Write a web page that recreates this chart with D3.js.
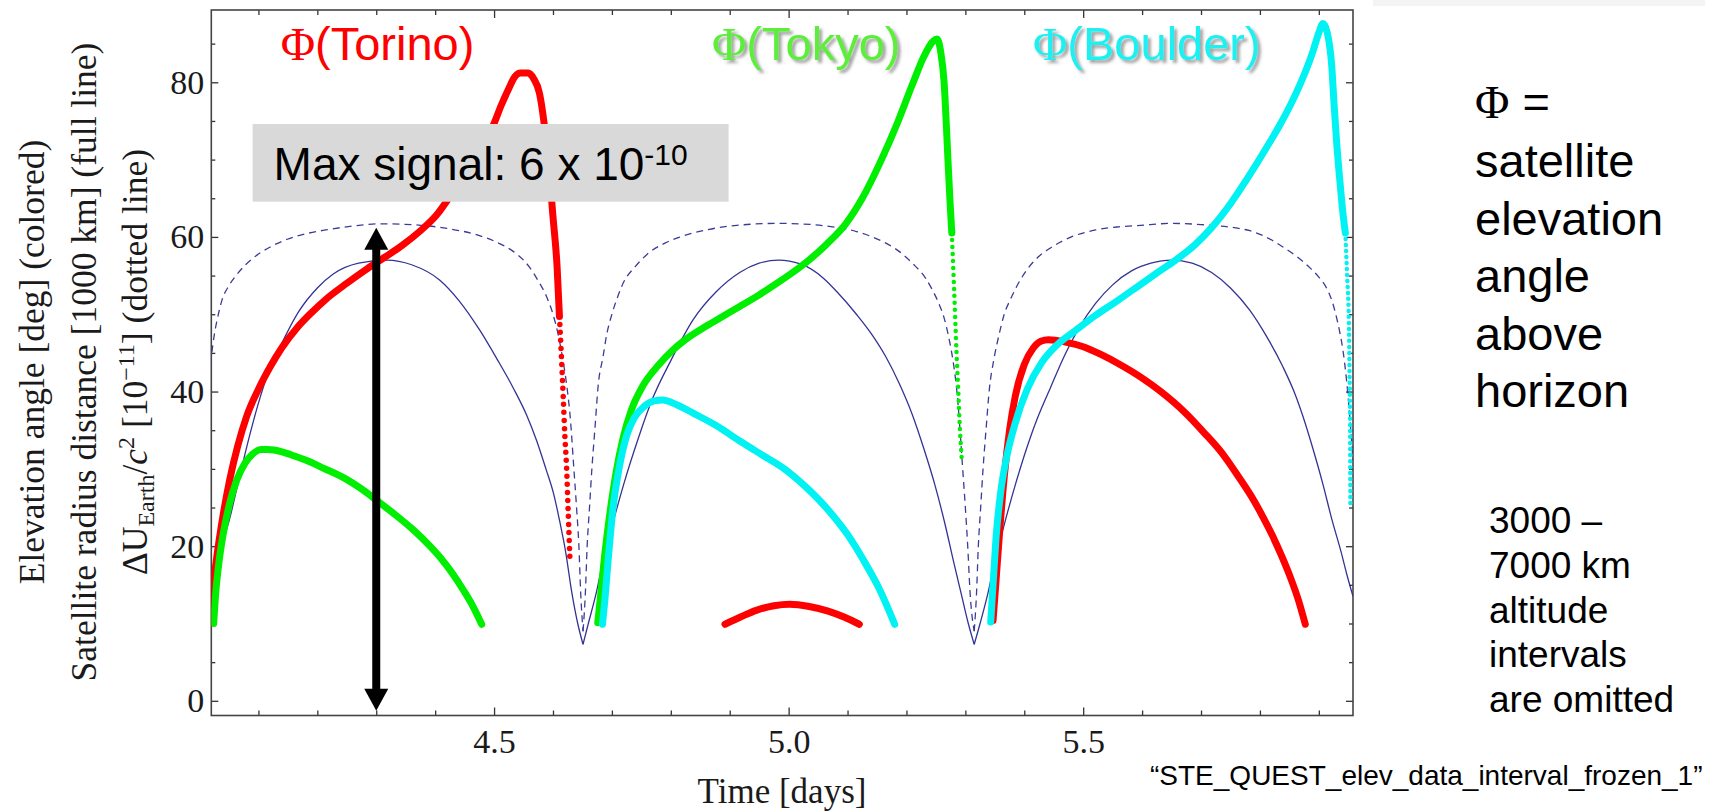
<!DOCTYPE html>
<html>
<head>
<meta charset="utf-8">
<script src="https://cdn.jsdelivr.net/npm/d3@7"></script>
<style>
  html, body { margin: 0; padding: 0; background: #fff; }
  svg { display: block; }
</style>
</head>
<body>
<svg width="1716" height="812"></svg>
<script>
// ticks
var xMajor = [4.5, 5.0, 5.5],
    xMajorLabels = ["4.5", "5.0", "5.5"],
    xMinor = [4.1, 4.2, 4.3, 4.4, 4.6, 4.7, 4.8, 4.9, 5.1, 5.2, 5.3, 5.4, 5.6, 5.7, 5.8, 5.9],
    yMajor = [0, 20, 40, 60, 80],
    yMinor = [5, 10, 15, 25, 30, 35, 45, 50, 55, 65, 70, 75, 85];

var radius1 = [[4.020, 15.5], [4.035, 19.5], [4.051, 23.5], [4.065, 28], [4.084, 34], [4.10, 38.5], [4.116, 42.3],
  [4.14, 46.3], [4.168, 50.3], [4.20, 53.4], [4.227, 55.2], [4.27, 56.6], [4.318, 57.0], [4.36, 56.4], [4.408, 54.4],
  [4.44, 51.8], [4.476, 47.9], [4.505, 44.2], [4.533, 40.4], [4.555, 37], [4.572, 33.7], [4.588, 30], [4.601, 26.8],
  [4.612, 23], [4.621, 19.5], [4.632, 14], [4.642, 10], [4.651, 7.3]];
var radius2 = [[4.651, 7.3], [4.66, 10], [4.672, 13.5], [4.685, 18], [4.70, 22.5], [4.72, 28], [4.745, 34],
  [4.768, 38.9], [4.80, 44], [4.838, 49.3], [4.877, 52.9], [4.917, 55.4], [4.95, 56.6], [4.983, 57.0], [5.02, 56.5],
  [5.06, 54.6], [5.082, 52.9], [5.115, 50], [5.142, 47.3], [5.165, 44.5], [5.188, 41], [5.21, 37], [5.23, 32.5],
  [5.248, 28], [5.265, 23], [5.28, 18], [5.294, 13.5], [5.305, 10], [5.315, 7.3]];
var radius3 = [[5.315, 7.3], [5.325, 10], [5.337, 13.5], [5.35, 18], [5.365, 22.5], [5.385, 28], [5.41, 34],
  [5.4226, 36.6], [5.445, 40.6], [5.468, 44.6], [5.495, 48.5], [5.521, 51.4], [5.55, 53.8], [5.582, 55.6],
  [5.615, 56.6], [5.65, 57.0], [5.685, 56.6], [5.718, 55.4], [5.75, 53.4], [5.783, 50.5], [5.81, 47.3],
  [5.839, 43.2], [5.861, 39.4], [5.873, 36.8], [5.89, 32.6], [5.907, 28], [5.922, 23.5], [5.938, 19.2],
  [5.947, 16.5], [5.958, 13.5]];

// Delta U_Earth / c^2 [1e-11] (dotted line)
var potential1 = [[4.016, 42], [4.02, 44.5], [4.025, 47.3], [4.032, 50], [4.038, 51.8], [4.05, 53.7], [4.064, 55.2],
  [4.09, 57.2], [4.12, 58.7], [4.149, 59.7], [4.18, 60.4], [4.214, 60.9], [4.26, 61.4], [4.311, 61.7], [4.376, 61.5],
  [4.42, 61.1], [4.474, 60.2], [4.505, 59.3], [4.533, 58.1], [4.55, 57], [4.561, 56], [4.575, 54.3], [4.589, 52.3],
  [4.6, 50], [4.609, 47.3], [4.617, 44], [4.623, 41], [4.63, 36], [4.635, 30.5], [4.64, 25], [4.644, 20],
  [4.647, 14], [4.651, 9]];
var potential2 = [[4.651, 9], [4.655, 14], [4.658, 20], [4.662, 25], [4.666, 30], [4.671, 35], [4.677, 41],
  [4.685, 44.5], [4.691, 47.3], [4.70, 50], [4.71, 52.3], [4.719, 54], [4.74, 56.2], [4.759, 57.7], [4.79, 59.2],
  [4.816, 60], [4.86, 60.9], [4.912, 61.5], [4.983, 61.75], [5.04, 61.6], [5.082, 61.2], [5.115, 60.7], [5.142, 60],
  [5.165, 59.2], [5.188, 58.1], [5.21, 56.6], [5.233, 54.6], [5.245, 53], [5.256, 51.2], [5.264, 49.5],
  [5.271, 47.3], [5.279, 44], [5.285, 40.5], [5.29, 36], [5.295, 30.5], [5.3, 25], [5.304, 20], [5.308, 14],
  [5.315, 9]];
var potential3 = [[5.315, 9], [5.319, 14], [5.322, 20], [5.326, 25], [5.33, 30], [5.335, 35], [5.341, 40.5],
  [5.348, 44], [5.357, 47.3], [5.366, 50], [5.377, 52], [5.39, 54], [5.407, 56], [5.425, 57.5], [5.445, 58.6],
  [5.48, 60], [5.521, 60.9], [5.56, 61.3], [5.597, 61.5], [5.65, 61.75], [5.7, 61.6], [5.764, 61.1], [5.783, 60.8],
  [5.81, 60], [5.839, 58.7], [5.862, 57.5], [5.885, 56], [5.9, 54.8], [5.913, 53.4], [5.922, 51.8], [5.93, 49.6],
  [5.936, 47.5], [5.941, 45.3], [5.947, 41.5], [5.953, 36.3], [5.958, 31]];

// elevation angle [deg] (colored)
var torino1 = [[4.017, 9.9], [4.022, 14], [4.03, 19], [4.04, 24], [4.051, 28.5], [4.065, 33], [4.08, 36.8],
  [4.10, 40.3], [4.12, 43.2], [4.14, 45.7], [4.165, 48.2], [4.19, 50.2], [4.214, 51.9], [4.25, 54], [4.285, 55.9],
  [4.315, 57.4], [4.344, 58.9], [4.375, 60.8], [4.402, 62.8], [4.43, 65.8], [4.465, 70.1], [4.4995, 74.6],
  [4.512, 77], [4.525, 79.2], [4.535, 80.7], [4.545, 81.2], [4.558, 81.2], [4.567, 80.5], [4.577, 78.6],
  [4.587, 73.4], [4.594, 68.2], [4.6, 62.6], [4.607, 56.1], [4.611, 49.7]];
var torino1Drop = [[4.611, 49.7], [4.614, 45], [4.6176, 38.9], [4.62, 34.5], [4.623, 30.3], [4.626, 24], [4.629, 17.8]];
var torino2 = [[4.892, 9.9], [4.92, 10.9], [4.945, 11.7], [4.975, 12.3], [5.002, 12.5], [5.035, 12.2], [5.067, 11.6],
  [5.095, 10.8], [5.12, 9.9]];
var torino3 = [[5.347, 10.4], [5.352, 15.5], [5.358, 21.7], [5.366, 29], [5.375, 35], [5.385, 39.5], [5.40, 43.5],
  [5.415, 45.6], [5.428, 46.5], [5.441, 46.7], [5.47, 46.4], [5.5, 45.8], [5.53, 44.8], [5.56, 43.6], [5.597, 41.9],
  [5.63, 40.1], [5.674, 37.2], [5.705, 34.7], [5.736, 32], [5.76, 29.4], [5.785, 26.5], [5.805, 23.8],
  [5.821, 21.4], [5.837, 18.7], [5.852, 15.9], [5.865, 13.1], [5.877, 9.9]];

var tokyo1 = [[4.024, 10], [4.027, 13.5], [4.032, 17.3], [4.04, 21.5], [4.051, 25.5], [4.063, 28.5], [4.077, 30.7],
  [4.09, 31.9], [4.104, 32.5], [4.116, 32.5], [4.14, 32.2], [4.16, 31.7], [4.181, 31.1], [4.21, 30.1], [4.246, 28.8],
  [4.275, 27.4], [4.301, 25.9], [4.33, 24.2], [4.363, 22.1], [4.39, 20.1], [4.409, 18.5], [4.43, 16.4],
  [4.448, 14.3], [4.465, 12.1], [4.479, 9.9]];
var tokyo2 = [[4.676, 10.1], [4.68, 13], [4.688, 19], [4.697, 24.5], [4.707, 29.5], [4.719, 34], [4.733, 37.6],
  [4.753, 40.8], [4.78, 43.5], [4.804, 45.4], [4.83, 47], [4.861, 48.5], [4.89, 49.8], [4.917, 51], [4.95, 52.5],
  [4.976, 53.8], [5.005, 55.3], [5.036, 57.1], [5.065, 59.1], [5.097, 61.7], [5.125, 65], [5.157, 69.9],
  [5.185, 74.8], [5.211, 79.9], [5.23, 83.4], [5.245, 85.3], [5.252, 85.6], [5.258, 84], [5.264, 79.9],
  [5.268, 74], [5.271, 69.1], [5.274, 64.5], [5.277, 60.5]];
var tokyo2Drop = [[5.277, 60.5], [5.281, 53], [5.285, 45], [5.288, 40], [5.29, 36.3], [5.294, 31.1]];

var boulder1 = [[4.684, 9.9], [4.688, 13], [4.694, 18.5], [4.702, 25], [4.712, 30], [4.725, 34.3], [4.738, 36.6],
  [4.755, 38.1], [4.772, 38.8], [4.786, 38.9], [4.81, 38.3], [4.838, 37.2], [4.877, 35.6], [4.917, 33.6],
  [4.955, 31.8], [4.991, 30.1], [5.03, 27.6], [5.067, 24.7], [5.1, 21.5], [5.127, 18.2], [5.155, 14.3], [5.18, 9.9]];
var boulder2 = [[5.343, 10.2], [5.347, 15], [5.352, 21], [5.36, 27], [5.37, 31.5], [5.385, 36], [5.405, 40.3],
  [5.43, 43.8], [5.455, 46], [5.487, 47.9], [5.52, 49.8], [5.559, 51.8], [5.6, 54], [5.63, 55.6], [5.657, 57],
  [5.69, 59], [5.718, 61.2], [5.75, 64.3], [5.779, 67.6], [5.81, 71.4], [5.834, 74.5], [5.852, 77.1], [5.868, 79.7],
  [5.88, 81.9], [5.89, 84], [5.9, 86.4], [5.907, 87.6], [5.914, 86.5], [5.922, 82], [5.926, 77], [5.93, 72.5],
  [5.936, 67], [5.941, 63], [5.945, 60.5]];
var boulder2Drop = [[5.945, 60.5], [5.948, 55], [5.951, 49], [5.952, 43], [5.953, 36.3], [5.9533, 30], [5.9536, 25]];

// arrow: max signal, from 0 up to the top of the potential
var arrowTime = 4.3, arrowLow = -1.3, arrowHigh = 61.2;

var svg = d3.select("svg"),
    plot = {left: 211.3, right: 1353, top: 10, bottom: 715.5},
    serif = "'Liberation Serif', 'Times New Roman', serif",
    sans = "'Liberation Sans', Arial, sans-serif";

var x = d3.scaleLinear().domain([4.02, 5.958]).range([plot.left, plot.right]),
    y = d3.scaleLinear().domain([-1.9, 89.35]).range([plot.bottom, plot.top]);

var line = d3.line()
    .x(function(d) { return x(d[0]); })
    .y(function(d) { return y(d[1]); })
    .curve(d3.curveMonotoneX);

var defs = svg.append("defs");
defs.append("clipPath").attr("id", "clip")
  .append("rect")
    .attr("x", plot.left).attr("y", plot.top)
    .attr("width", plot.right - plot.left).attr("height", plot.bottom - plot.top);
var shadow = defs.append("filter").attr("id", "shadow")
    .attr("x", "-10%").attr("y", "-10%").attr("width", "130%").attr("height", "140%");
shadow.append("feDropShadow")
    .attr("dx", 3).attr("dy", 3).attr("stdDeviation", 1.6)
    .attr("flood-color", "#555").attr("flood-opacity", 0.55);

// faint strip from the slide, top right
svg.append("rect").attr("x", 1373).attr("y", 0).attr("width", 332).attr("height", 6).attr("fill", "#f4f4f4");

// axes
function styleAxis(sel) {
  sel.select(".domain").remove();
  sel.selectAll(".tick line").attr("stroke", "#333").attr("stroke-width", 1.3);
  sel.selectAll(".tick text").attr("fill", "#1a1a1a");
  sel.attr("font-family", serif).attr("font-size", 34);
}

svg.append("g").attr("transform", "translate(0," + plot.bottom + ")")
    .call(d3.axisBottom(x).tickValues(xMajor).tickSize(-8).tickPadding(13)
      .tickFormat(function(d, i) { return xMajorLabels[i]; }))
    .call(styleAxis);
svg.append("g").attr("transform", "translate(0," + plot.bottom + ")")
    .call(d3.axisBottom(x).tickValues(xMinor).tickSize(-5).tickFormat(""))
    .call(styleAxis);
svg.append("g").attr("transform", "translate(0," + plot.top + ")")
    .call(d3.axisTop(x).tickValues(xMajor).tickSize(-8).tickFormat(""))
    .call(styleAxis);
svg.append("g").attr("transform", "translate(0," + plot.top + ")")
    .call(d3.axisTop(x).tickValues(xMinor).tickSize(-5).tickFormat(""))
    .call(styleAxis);
svg.append("g").attr("transform", "translate(" + plot.left + ",0)")
    .call(d3.axisLeft(y).tickValues(yMajor).tickSize(-7).tickPadding(7).tickFormat(d3.format("d")))
    .call(styleAxis);
svg.append("g").attr("transform", "translate(" + plot.left + ",0)")
    .call(d3.axisLeft(y).tickValues(yMinor).tickSize(-4).tickFormat(""))
    .call(styleAxis);
svg.append("g").attr("transform", "translate(" + plot.right + ",0)")
    .call(d3.axisRight(y).tickValues(yMajor).tickSize(-7).tickFormat(""))
    .call(styleAxis);
svg.append("g").attr("transform", "translate(" + plot.right + ",0)")
    .call(d3.axisRight(y).tickValues(yMinor).tickSize(-4).tickFormat(""))
    .call(styleAxis);

svg.append("rect")
    .attr("x", plot.left).attr("y", plot.top)
    .attr("width", plot.right - plot.left).attr("height", plot.bottom - plot.top)
    .attr("fill", "none").attr("stroke", "#444").attr("stroke-width", 1.6);

// curves
var marks = svg.append("g").attr("clip-path", "url(#clip)");

[potential1, potential2, potential3].forEach(function(s) {
  marks.append("path").datum(s).attr("d", line)
      .attr("fill", "none").attr("stroke", "#3b3b98").attr("stroke-width", 1.3)
      .attr("stroke-dasharray", "7,5");
});
[radius1, radius2, radius3].forEach(function(s) {
  marks.append("path").datum(s).attr("d", line)
      .attr("fill", "none").attr("stroke", "#333394").attr("stroke-width", 1.3);
});

var thick = [
  {data: torino1, color: "#ff0000"}, {data: torino2, color: "#ff0000"}, {data: torino3, color: "#ff0000"},
  {data: tokyo1, color: "#00ee00"}, {data: tokyo2, color: "#00ee00"},
  {data: boulder1, color: "#00f2f2"}, {data: boulder2, color: "#00f2f2"}
];
thick.forEach(function(s) {
  marks.append("path").datum(s.data).attr("d", line)
      .attr("fill", "none").attr("stroke", s.color).attr("stroke-width", 7)
      .attr("stroke-linecap", "round").attr("stroke-linejoin", "round");
});

// steep parts show up as separate points
var drops = [
  {data: torino1Drop, color: "#ff0000", w: 5.5, gap: 8},
  {data: tokyo2Drop, color: "#00ee00", w: 4.5, gap: 7},
  {data: boulder2Drop, color: "#00f2f2", w: 4.5, gap: 6}
];
drops.forEach(function(s) {
  marks.append("path").datum(s.data).attr("d", line)
      .attr("fill", "none").attr("stroke", s.color).attr("stroke-width", s.w)
      .attr("stroke-linecap", "round").attr("stroke-dasharray", "0," + s.gap);
});

// max signal box
svg.append("rect").attr("x", 252.6).attr("y", 124).attr("width", 476).attr("height", 77.7).attr("fill", "#d9d9d9");
var maxText = svg.append("text").attr("x", 273.6).attr("y", 180)
    .attr("font-family", sans).attr("font-size", 46).attr("fill", "#000");
maxText.append("tspan").text("Max signal: 6 x 10");
maxText.append("tspan").attr("font-size", 30).attr("dy", -15).text("-10");

// double arrow
var ax = x(arrowTime), aTop = y(arrowHigh), aBot = y(arrowLow), head = 22, hw = 12;
svg.append("line")
    .attr("x1", ax).attr("x2", ax).attr("y1", aTop + head - 2).attr("y2", aBot - head + 2)
    .attr("stroke", "#000").attr("stroke-width", 8);
svg.append("path")
    .attr("d", "M" + ax + "," + aTop + "L" + (ax + hw) + "," + (aTop + head) + "L" + (ax - hw) + "," + (aTop + head) + "Z")
    .attr("fill", "#000");
svg.append("path")
    .attr("d", "M" + ax + "," + aBot + "L" + (ax + hw) + "," + (aBot - head) + "L" + (ax - hw) + "," + (aBot - head) + "Z")
    .attr("fill", "#000");

// series labels
function phiLabel(xp, name, color, withShadow) {
  var t = svg.append("text").attr("x", xp).attr("y", 60)
      .attr("font-family", sans).attr("font-size", 47).attr("fill", color);
  if (withShadow) t.attr("filter", "url(#shadow)");
  t.append("tspan").attr("font-family", serif).text("\u03A6");
  t.append("tspan").text("(" + name + ")");
}
phiLabel(280.7, "Torino", "#ff0000", false);
phiLabel(712, "Tokyo", "#5cee3a", true);
phiLabel(1033, "Boulder", "#1ef0f0", true);

// axis titles
svg.append("text").attr("x", 782).attr("y", 803).attr("text-anchor", "middle")
    .attr("font-family", serif).attr("font-size", 35).attr("fill", "#1a1a1a")
    .text("Time [days]");

var yTitles = svg.append("g").attr("font-family", serif).attr("font-size", 35.5).attr("fill", "#1a1a1a");
yTitles.append("text").attr("transform", "translate(44,362) rotate(-90)").attr("text-anchor", "middle")
    .text("Elevation angle [deg] (colored)");
yTitles.append("text").attr("transform", "translate(95.5,362) rotate(-90)").attr("text-anchor", "middle")
    .text("Satellite radius distance [1000 km] (full line)");
var t3 = yTitles.append("text").attr("transform", "translate(146.5,362) rotate(-90)").attr("text-anchor", "middle");
t3.append("tspan").text("\u0394U");
t3.append("tspan").attr("font-size", 24).attr("dy", 7).text("Earth");
t3.append("tspan").attr("dy", -7).text("/");
t3.append("tspan").attr("font-style", "italic").text("c");
t3.append("tspan").attr("font-size", 24).attr("dy", -13).text("2");
t3.append("tspan").attr("dy", 13).text(" [10");
t3.append("tspan").attr("font-size", 24).attr("dy", -13).text("\u221211");
t3.append("tspan").attr("dy", 13).text("] (dotted line)");

// notes on the right
var notes = svg.append("g").attr("font-family", sans).attr("fill", "#000");
var phiNote = notes.append("text").attr("x", 1475).attr("y", 118).attr("font-size", 47);
phiNote.append("tspan").attr("font-family", serif).text("\u03A6");
phiNote.append("tspan").text(" =");
["satellite", "elevation", "angle", "above", "horizon"].forEach(function(w, i) {
  notes.append("text").attr("x", 1475).attr("y", 177 + i * 57.5).attr("font-size", 47).text(w);
});
["3000 \u2013", "7000 km", "altitude", "intervals", "are omitted"].forEach(function(w, i) {
  notes.append("text").attr("x", 1489).attr("y", 533 + i * 44.8).attr("font-size", 37).text(w);
});
notes.append("text").attr("x", 1150).attr("y", 785).attr("font-size", 28)
    .text("\u201CSTE_QUEST_elev_data_interval_frozen_1\u201D");
</script>
</body>
</html>
